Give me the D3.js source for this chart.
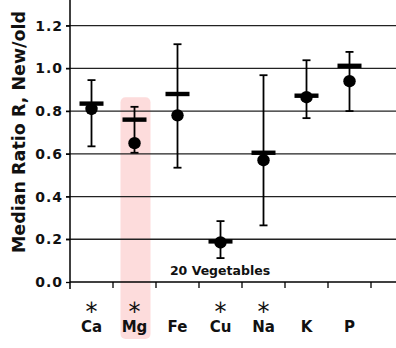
<!DOCTYPE html>
<html>
<head>
<meta charset="utf-8">
<script src="https://cdn.jsdelivr.net/npm/d3@7"></script>
<style>
  html, body { margin: 0; padding: 0; background: #fff; }
  svg { display: block; font-family: "DejaVu Sans", Verdana, sans-serif; font-weight: bold; }
</style>
</head>
<body>
<svg id="chart" width="396" height="348"></svg>
<script>
// Nutrient elements along the x axis
const elements = ["Ca", "Mg", "Fe", "Cu", "Na", "K", "P"];
// Elements marked as significant (asterisk above the label)
const significant = ["Ca", "Mg", "Cu", "Na"];
const significanceMark = "\u204E";
// Element singled out with a shaded band
const highlighted = ["Mg"];
// Median ratio (dot) and crossbar value per element
const medianRatio = [0.81, 0.65, 0.78, 0.185, 0.57, 0.865, 0.94];
const crossbarRatio = [0.835, 0.76, 0.88, 0.19, 0.605, 0.872, 1.012];
// Range of ratios (whisker ends)
const rangeLow = [0.635, 0.605, 0.535, 0.112, 0.265, 0.767, 0.80];
const rangeHigh = [0.945, 0.82, 1.113, 0.285, 0.968, 1.038, 1.077];
// Y tick values
const yTicks = [0.0, 0.2, 0.4, 0.6, 0.8, 1.0, 1.2];
const yAxisTitle = "Median Ratio R, New/old";
const noteText = "20 Vegetables";

const svg = d3.select("#chart");

const x = d3.scaleBand().domain(elements).range([70, 371]).padding(0);
const y = d3.scaleLinear().domain([0, 1.32]).range([282, 0]);

const rows = elements.map((e, i) => ({
  name: e, median: medianRatio[i], cross: crossbarRatio[i],
  lo: rangeLow[i], hi: rangeHigh[i]
}));

// Shaded band behind the highlighted element
svg.append("g").selectAll("rect").data(highlighted).join("rect")
  .attr("x", d => x(d) + x.bandwidth() / 2 - 14)
  .attr("y", y(0.865))
  .attr("width", 30)
  .attr("height", 339 - y(0.865))
  .attr("rx", 5)
  .attr("fill", "#fddcdc");

// Horizontal gridlines
svg.append("g").selectAll("line").data(yTicks.filter(t => t > 0)).join("line")
  .attr("x1", 66).attr("x2", 396)
  .attr("y1", d => y(d)).attr("y2", d => y(d))
  .attr("stroke", "#222").attr("stroke-width", 1.3);

// Y axis
const yAxis = d3.axisLeft(y).tickValues(yTicks).tickFormat(d3.format(".1f")).tickSize(4).tickPadding(3);
const gy = svg.append("g").attr("transform", "translate(70,0)").call(yAxis);
gy.select(".domain").attr("d", "M0,0V289").attr("stroke", "#000").attr("stroke-width", 1.5);
gy.selectAll(".tick line").attr("stroke", "#000").attr("stroke-width", 1.3);
gy.selectAll(".tick text").attr("font-size", 14).attr("font-weight", "bold").attr("fill", "#111")
  .attr("letter-spacing", 1)
  .attr("font-family", "DejaVu Sans, Verdana, sans-serif");

// X axis baseline with ticks at category boundaries
svg.append("line").attr("x1", 70).attr("x2", 396).attr("y1", y(0)).attr("y2", y(0))
  .attr("stroke", "#000").attr("stroke-width", 1.5);
svg.append("g").selectAll("line").data(elements).join("line")
  .attr("x1", d => x(d) + x.bandwidth()).attr("x2", d => x(d) + x.bandwidth())
  .attr("y1", y(0)).attr("y2", y(0) + 6)
  .attr("stroke", "#000").attr("stroke-width", 1.3);

// Significance marks above the labels
svg.append("g").selectAll("text").data(significant).join("text")
  .attr("x", d => x(d) + x.bandwidth() / 2)
  .attr("y", 312)
  .attr("text-anchor", "middle")
  .attr("font-size", 24)
  .attr("font-weight", "normal")
  .attr("fill", "#111")
  .text(significanceMark);

// Category labels
svg.append("g").selectAll("text").data(elements).join("text")
  .attr("x", d => x(d) + x.bandwidth() / 2)
  .attr("y", 332)
  .attr("text-anchor", "middle")
  .attr("font-size", 15)
  .attr("fill", "#111")
  .text(d => d);

// Whiskers
const cx = d => x(d.name) + x.bandwidth() / 2;
const marks = svg.append("g");
marks.selectAll("line.whisker").data(rows).join("line").attr("class", "whisker")
  .attr("x1", cx).attr("x2", cx)
  .attr("y1", d => y(d.lo)).attr("y2", d => y(d.hi))
  .attr("stroke", "#000").attr("stroke-width", 1.8);
marks.selectAll("line.capHi").data(rows).join("line").attr("class", "capHi")
  .attr("x1", d => cx(d) - 4).attr("x2", d => cx(d) + 4)
  .attr("y1", d => y(d.hi)).attr("y2", d => y(d.hi))
  .attr("stroke", "#000").attr("stroke-width", 1.8);
marks.selectAll("line.capLo").data(rows).join("line").attr("class", "capLo")
  .attr("x1", d => cx(d) - 4).attr("x2", d => cx(d) + 4)
  .attr("y1", d => y(d.lo)).attr("y2", d => y(d.lo))
  .attr("stroke", "#000").attr("stroke-width", 1.8);

// Median dots
marks.selectAll("circle").data(rows).join("circle")
  .attr("cx", cx).attr("cy", d => y(d.median)).attr("r", 6.2)
  .attr("fill", "#000");

// Crossbars
marks.selectAll("rect.cross").data(rows).join("rect").attr("class", "cross")
  .attr("x", d => cx(d) - 12).attr("y", d => y(d.cross) - 2.2)
  .attr("width", 24).attr("height", 4.4)
  .attr("fill", "#000");

// Note inside the plot
svg.append("text")
  .attr("x", 220).attr("y", 275)
  .attr("text-anchor", "middle")
  .attr("font-size", 12.5)
  .attr("fill", "#111")
  .text(noteText);

// Y axis title
svg.append("text")
  .attr("transform", `translate(25,${132}) rotate(-90)`)
  .attr("text-anchor", "middle")
  .attr("font-size", 17.5)
  .attr("fill", "#111")
  .text(yAxisTitle);
</script>
</body>
</html>
